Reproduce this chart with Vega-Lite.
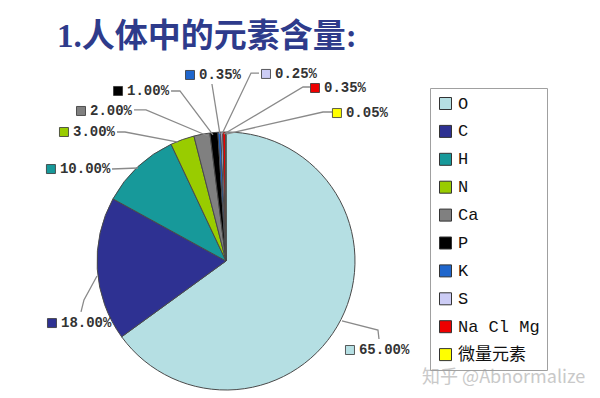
{
  "$schema": "https://vega.github.io/schema/vega-lite/v6.json",
  "autosize": {"type": "none"},
  "width": 258,
  "height": 258,
  "padding": {"left": 97, "top": 132, "right": 245, "bottom": 8},
  "background": "white",
  "config": {"view": {"stroke": null}},
  "title": {
    "text": "1.人体中的元素含量:",
    "anchor": "start",
    "frame": "group",
    "orient": "top",
    "baseline": "alphabetic",
    "dx": -40,
    "dy": 30,
    "offset": 17,
    "font": "'Liberation Serif', 'Noto Sans CJK SC'",
    "fontSize": 33,
    "fontWeight": "bold",
    "color": "#2e3b8b"
  },
  "datasets": {
    "elements": [
      {"element": "O", "pct": 65, "rank": 1},
      {"element": "C", "pct": 18, "rank": 2},
      {"element": "H", "pct": 10, "rank": 3},
      {"element": "N", "pct": 3, "rank": 4},
      {"element": "Ca", "pct": 2, "rank": 5},
      {"element": "P", "pct": 1, "rank": 6},
      {"element": "K", "pct": 0.35, "rank": 7},
      {"element": "S", "pct": 0.25, "rank": 8},
      {"element": "Na Cl Mg", "pct": 0.35, "rank": 9},
      {"element": "微量元素", "pct": 0.05, "rank": 10}
    ],
    "labels": [
      {"element": "O", "label": "65.00%", "lx": 0.961, "ly": -0.690},
      {"element": "C", "label": "18.00%", "lx": -1.349, "ly": -0.481},
      {"element": "H", "label": "10.00%", "lx": -1.357, "ly": 0.713},
      {"element": "N", "label": "3.00%", "lx": -1.256, "ly": 1.0},
      {"element": "Ca", "label": "2.00%", "lx": -1.124, "ly": 1.163},
      {"element": "P", "label": "1.00%", "lx": -0.837, "ly": 1.318},
      {"element": "K", "label": "0.35%", "lx": -0.279, "ly": 1.442},
      {"element": "S", "label": "0.25%", "lx": 0.310, "ly": 1.450},
      {"element": "Na Cl Mg", "label": "0.35%", "lx": 0.690, "ly": 1.341},
      {"element": "微量元素", "label": "0.05%", "lx": 0.860, "ly": 1.147}
    ],
    "leaders": [
      {"element": "O", "step": 1, "lx": 0.899, "ly": -0.465},
      {"element": "O", "step": 2, "lx": 1.178, "ly": -0.535},
      {"element": "O", "step": 3, "lx": 1.186, "ly": -0.605},
      {"element": "C", "step": 1, "lx": -1.0, "ly": -0.116},
      {"element": "C", "step": 2, "lx": -1.101, "ly": -0.302},
      {"element": "C", "step": 3, "lx": -1.124, "ly": -0.395},
      {"element": "H", "step": 1, "lx": -0.682, "ly": 0.721},
      {"element": "H", "step": 2, "lx": -0.884, "ly": 0.713},
      {"element": "N", "step": 1, "lx": -0.372, "ly": 0.922},
      {"element": "N", "step": 2, "lx": -0.783, "ly": 1.0},
      {"element": "N", "step": 3, "lx": -0.845, "ly": 1.0},
      {"element": "Ca", "step": 1, "lx": -0.140, "ly": 0.969},
      {"element": "Ca", "step": 2, "lx": -0.620, "ly": 1.171},
      {"element": "Ca", "step": 3, "lx": -0.713, "ly": 1.171},
      {"element": "P", "step": 1, "lx": -0.101, "ly": 0.977},
      {"element": "P", "step": 2, "lx": -0.357, "ly": 1.318},
      {"element": "P", "step": 3, "lx": -0.426, "ly": 1.318},
      {"element": "K", "step": 1, "lx": -0.047, "ly": 0.984},
      {"element": "K", "step": 2, "lx": -0.109, "ly": 1.372},
      {"element": "S", "step": 1, "lx": -0.031, "ly": 0.984},
      {"element": "S", "step": 2, "lx": 0.194, "ly": 1.457},
      {"element": "S", "step": 3, "lx": 0.256, "ly": 1.457},
      {"element": "Na Cl Mg", "step": 1, "lx": -0.016, "ly": 0.984},
      {"element": "Na Cl Mg", "step": 2, "lx": 0.597, "ly": 1.349},
      {"element": "Na Cl Mg", "step": 3, "lx": 0.651, "ly": 1.349},
      {"element": "微量元素", "step": 1, "lx": 0.0, "ly": 0.984},
      {"element": "微量元素", "step": 2, "lx": 0.752, "ly": 1.155},
      {"element": "微量元素", "step": 3, "lx": 0.822, "ly": 1.155}
    ],
    "watermark": [{"text": "知乎 @Abnormalize", "lx": 1.52, "ly": -0.946}]
  },
  "layer": [
    {
      "data": {"name": "elements"},
      "mark": {"type": "arc", "outerRadius": 129, "stroke": "#4a4a4a", "strokeWidth": 1},
      "encoding": {
        "theta": {"field": "pct", "type": "quantitative", "stack": true},
        "order": {"field": "rank", "type": "quantitative"},
        "color": {
          "field": "element",
          "type": "nominal",
          "scale": {
            "domain": ["O", "C", "H", "N", "Ca", "P", "K", "S", "Na Cl Mg", "微量元素"],
            "range": ["#b5dfe3", "#2e3192", "#17999a", "#99cc00", "#808080", "#000000", "#1f66cc", "#ccccf5", "#ee0000", "#ffff00"]
          },
          "legend": {
            "orient": "none",
            "legendX": 333,
            "legendY": -44,
            "title": null,
            "symbolType": "square",
            "symbolSize": 144,
            "symbolStrokeColor": "#444444",
            "symbolStrokeWidth": 1,
            "symbolOpacity": 1,
            "labelFont": "'Liberation Mono', 'Noto Sans CJK SC'",
            "labelFontSize": 17,
            "labelColor": "#111111",
            "labelOffset": 4,
            "rowPadding": 9.9,
            "padding": 7,
            "strokeColor": "#a0a0a0"
          }
        }
      }
    },
    {
      "data": {"name": "leaders"},
      "mark": {"type": "line", "color": "#8a8a8a", "strokeWidth": 1.3},
      "encoding": {
        "x": {"field": "lx", "type": "quantitative", "scale": {"domain": [-1, 1], "nice": false, "zero": false}, "axis": null},
        "y": {"field": "ly", "type": "quantitative", "scale": {"domain": [-1, 1], "nice": false, "zero": false}, "axis": null},
        "detail": {"field": "element"},
        "order": {"field": "step", "type": "quantitative"}
      }
    },
    {
      "data": {"name": "labels"},
      "mark": {"type": "point", "shape": "square", "filled": true, "size": 81, "stroke": "#333333", "strokeWidth": 0.8, "opacity": 1},
      "encoding": {
        "x": {"field": "lx", "type": "quantitative", "scale": {"domain": [-1, 1], "nice": false, "zero": false}, "axis": null},
        "y": {"field": "ly", "type": "quantitative", "scale": {"domain": [-1, 1], "nice": false, "zero": false}, "axis": null},
        "color": {"field": "element", "type": "nominal"}
      }
    },
    {
      "data": {"name": "labels"},
      "mark": {"type": "text", "align": "left", "baseline": "middle", "dx": 9, "font": "'Liberation Mono'", "fontSize": 14, "fontWeight": "bold", "color": "#333333"},
      "encoding": {
        "x": {"field": "lx", "type": "quantitative", "scale": {"domain": [-1, 1], "nice": false, "zero": false}, "axis": null},
        "y": {"field": "ly", "type": "quantitative", "scale": {"domain": [-1, 1], "nice": false, "zero": false}, "axis": null},
        "text": {"field": "label"}
      }
    },
    {
      "data": {"name": "watermark"},
      "mark": {"type": "text", "align": "left", "baseline": "alphabetic", "font": "'Noto Sans CJK SC'", "fontSize": 18, "color": "#c4c4c4", "opacity": 0.9},
      "encoding": {
        "x": {"field": "lx", "type": "quantitative", "scale": {"domain": [-1, 1], "nice": false, "zero": false}, "axis": null},
        "y": {"field": "ly", "type": "quantitative", "scale": {"domain": [-1, 1], "nice": false, "zero": false}, "axis": null},
        "text": {"field": "text"}
      }
    }
  ]
}
